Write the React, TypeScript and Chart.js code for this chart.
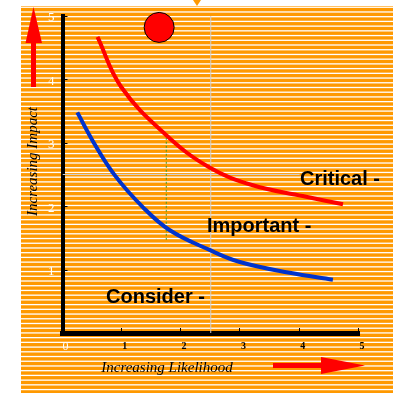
import React, { useEffect, useRef } from 'react';
import { Chart, registerables } from 'chart.js';

Chart.register(...registerables);

// Axis tick labels (index matches tick value 0..5)
const xTickLabels = ['0', '1', '2', '3', '4', '5'];
const yTickLabels = ['', '1', '2', '3', '4', '5'];

// Upper risk boundary (Critical)
const criticalX = [0.59, 0.99, 1.75, 2.48, 3.21, 4.05, 4.73];
const criticalY = [4.67, 3.88, 3.12, 2.61, 2.33, 2.16, 2.03];

// Lower risk boundary (Important)
const importantX = [0.25, 0.51, 0.88, 1.35, 1.81, 2.48, 2.99, 3.83, 4.56];
const importantY = [3.48, 3.03, 2.49, 1.99, 1.62, 1.31, 1.12, 0.95, 0.84];

// Highlighted risk item
const hotspotX = [1.63];
const hotspotY = [4.82];

// Reference guides
const thresholdX = [1.75, 1.75];
const thresholdY = [1.47, 3.12];
const midLikelihoodX = [2.5, 2.5];
const midLikelihoodY = [0, 5];
const midImpactX = [0, 4];
const midImpactY = [2.5, 2.5];

const zip = (xs: number[], ys: number[]) => xs.map((x, i) => ({ x, y: ys[i] }));

const SIZE = 393;

const backdrop = {
  id: 'backdrop',
  beforeDraw(chart: any) {
    const { ctx, width, height } = chart;
    ctx.save();
    ctx.fillStyle = '#ffffff';
    ctx.fillRect(0, 0, width, height);
    ctx.fillStyle = '#ff9900';
    ctx.fillRect(21, 6, width - 21, height - 6);
    ctx.beginPath();
    ctx.moveTo(193, 0);
    ctx.lineTo(201, 0);
    ctx.lineTo(197, 6);
    ctx.closePath();
    ctx.fill();
    ctx.fillStyle = '#ffffff';
    for (let y = 6.6; y < height; y += 4.72) {
      ctx.fillRect(21, y, width - 21, 1.3);
    }
    ctx.restore();
  },
};

const decorations = {
  id: 'decorations',
  afterDraw(chart: any) {
    const { ctx, chartArea } = chart;
    const xs = chart.scales.x;
    const ys = chart.scales.y;
    ctx.save();

    // inner tick marks
    ctx.strokeStyle = '#000';
    ctx.lineWidth = 1;
    ys.ticks.forEach((t: any) => {
      if (t.value === 0) return;
      const p = Math.round(ys.getPixelForValue(t.value)) + 0.5;
      ctx.beginPath();
      ctx.moveTo(chartArea.left, p);
      ctx.lineTo(chartArea.left + 5, p);
      ctx.stroke();
    });
    xs.ticks.forEach((t: any) => {
      if (t.value === 0) return;
      const p = Math.round(xs.getPixelForValue(t.value)) - 0.5;
      ctx.beginPath();
      ctx.moveTo(p, chartArea.bottom - 5);
      ctx.lineTo(p, chartArea.bottom);
      ctx.stroke();
    });

    // zone labels
    ctx.fillStyle = '#000';
    ctx.font = 'bold 20px "Liberation Sans", Arial, sans-serif';
    ctx.textAlign = 'left';
    ctx.textBaseline = 'alphabetic';
    ctx.fillText('Critical -', 300, 185);
    ctx.fillText('Important -', 207, 232);
    ctx.fillText('Consider -', 106, 303);

    // axis titles
    ctx.font = 'italic 15px "Liberation Serif", "Times New Roman", serif';
    ctx.textAlign = 'center';
    ctx.fillText('Increasing Likelihood', 167, 372);
    ctx.save();
    ctx.translate(37, 161.5);
    ctx.rotate(-Math.PI / 2);
    ctx.fillText('Increasing Impact', 0, 0);
    ctx.restore();

    // direction arrows
    ctx.fillStyle = '#ff0000';
    ctx.fillRect(31, 42, 5, 45);
    ctx.beginPath();
    ctx.moveTo(25.5, 43);
    ctx.lineTo(42, 43);
    ctx.lineTo(33.5, 7);
    ctx.closePath();
    ctx.fill();
    ctx.fillRect(273, 363, 49, 5);
    ctx.beginPath();
    ctx.moveTo(321, 357);
    ctx.lineTo(321, 374);
    ctx.lineTo(365, 365.5);
    ctx.closePath();
    ctx.fill();

    ctx.restore();
  },
};

export default function App() {
  const canvasRef = useRef<HTMLCanvasElement | null>(null);

  useEffect(() => {
    const canvas = canvasRef.current;
    if (!canvas) return;
    const chart = new Chart(canvas, {
      type: 'scatter',
      data: {
        datasets: [
          {
            label: 'Hotspot',
            data: zip(hotspotX, hotspotY),
            pointRadius: 15,
            pointBackgroundColor: '#ff0000',
            pointBorderColor: '#000000',
            pointBorderWidth: 1,
            showLine: false,
            clip: false,
          } as any,
          {
            label: 'Critical',
            data: zip(criticalX, criticalY),
            showLine: true,
            borderColor: '#ff0000',
            borderWidth: 4,
            pointRadius: 0,
            tension: 0.4,
          },
          {
            label: 'Important',
            data: zip(importantX, importantY),
            showLine: true,
            borderColor: '#0033cc',
            borderWidth: 4,
            pointRadius: 0,
            tension: 0.4,
          },
          {
            label: 'Threshold',
            data: zip(thresholdX, thresholdY),
            showLine: true,
            borderColor: '#3c9a28',
            borderWidth: 1,
            borderDash: [2, 2],
            pointRadius: 0,
          },
          {
            label: 'Mid likelihood',
            data: zip(midLikelihoodX, midLikelihoodY),
            showLine: true,
            borderColor: '#cfcfcf',
            borderWidth: 1,
            pointRadius: 0,
          },
          {
            label: 'Mid impact',
            data: zip(midImpactX, midImpactY),
            showLine: true,
            borderColor: '#cfcfcf',
            borderWidth: 1,
            pointRadius: 0,
          },
        ],
      },
      options: {
        responsive: false,
        animation: false,
        events: [],
        layout: { padding: { left: 0, top: 15.5, right: 34, bottom: 0 } },
        plugins: {
          legend: { display: false },
          tooltip: { enabled: false },
        },
        scales: {
          x: {
            type: 'linear',
            min: 0,
            max: 5,
            grid: { display: false, drawTicks: false },
            border: { display: true, color: '#000000', width: 5 },
            ticks: {
              stepSize: 1,
              padding: 7,
              labelOffset: 3,
              autoSkip: false,
              maxRotation: 0,
              color: (c: any) => (c.index === 0 ? '#ffffff' : '#000000'),
              font: (c: any) =>
                c.index === 0
                  ? { family: '"Liberation Serif", serif', size: 12 }
                  : { family: '"Liberation Serif", serif', size: 10, weight: 'bold' },
              callback: (_v: any, i: number) => xTickLabels[i],
            },
            afterFit: (s: any) => {
              s.height = SIZE - 333;
            },
          },
          y: {
            type: 'linear',
            min: 0,
            max: 5,
            grid: { display: false, drawTicks: false },
            border: { display: true, color: '#000000', width: 4 },
            ticks: {
              stepSize: 1,
              padding: 8,
              labelOffset: 2,
              autoSkip: false,
              color: '#ffffff',
              font: { family: '"Liberation Serif", serif', size: 13 },
              callback: (_v: any, i: number) => yTickLabels[i],
            },
            afterFit: (s: any) => {
              s.width = 62.5;
            },
          },
        },
      } as any,
      plugins: [backdrop, decorations],
    });
    return () => chart.destroy();
  }, []);

  return (
    <div style={{ position: 'absolute', left: 0, top: 0, width: SIZE, height: SIZE }}>
      <canvas ref={canvasRef} width={SIZE} height={SIZE} style={{ width: SIZE, height: SIZE, display: 'block' }} />
    </div>
  );
}
